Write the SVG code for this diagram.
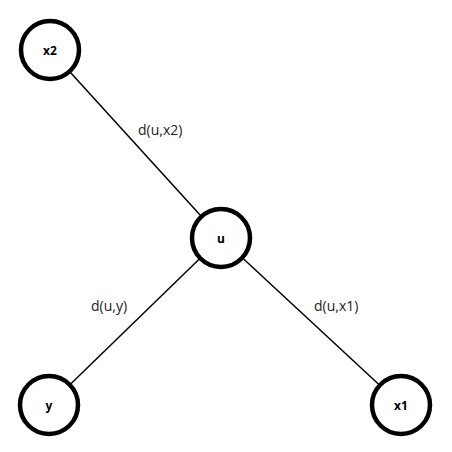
<svg xmlns="http://www.w3.org/2000/svg" width="452" height="452" viewBox="0 0 452 452">
<style>
.node circle{fill:#fff;stroke:#000;stroke-width:4.5}
.node text{font-family:"Open Sans","Noto Sans",sans-serif;font-size:12px;font-weight:bold;text-anchor:middle;dominant-baseline:central}
.edges line{stroke:#000;stroke-width:1.5}
.lbl{font-family:"Open Sans","Noto Sans",sans-serif;font-size:14px;fill:#222}
</style>
<rect width="452" height="452" fill="#fff"/>
<g class="edges">
<line x1="50" y1="50" x2="221" y2="238"/>
<line x1="221" y1="238" x2="49" y2="405"/>
<line x1="221" y1="238" x2="401" y2="405"/>
</g>
<text class="lbl" x="138" y="135">d(u,x2)</text>
<text class="lbl" x="91" y="311">d(u,y)</text>
<text class="lbl" x="314" y="311">d(u,x1)</text>
<g id="x2" class="node"><circle cx="50" cy="50" r="29"/><text x="50" y="50">x2</text></g>
<g id="u" class="node"><circle cx="221" cy="238" r="29"/><text x="221" y="238">u</text></g>
<g id="y" class="node"><circle cx="49" cy="405" r="29"/><text x="49" y="405">y</text></g>
<g id="x1" class="node"><circle cx="401" cy="405" r="29"/><text x="401" y="405">x1</text></g>
</svg>
